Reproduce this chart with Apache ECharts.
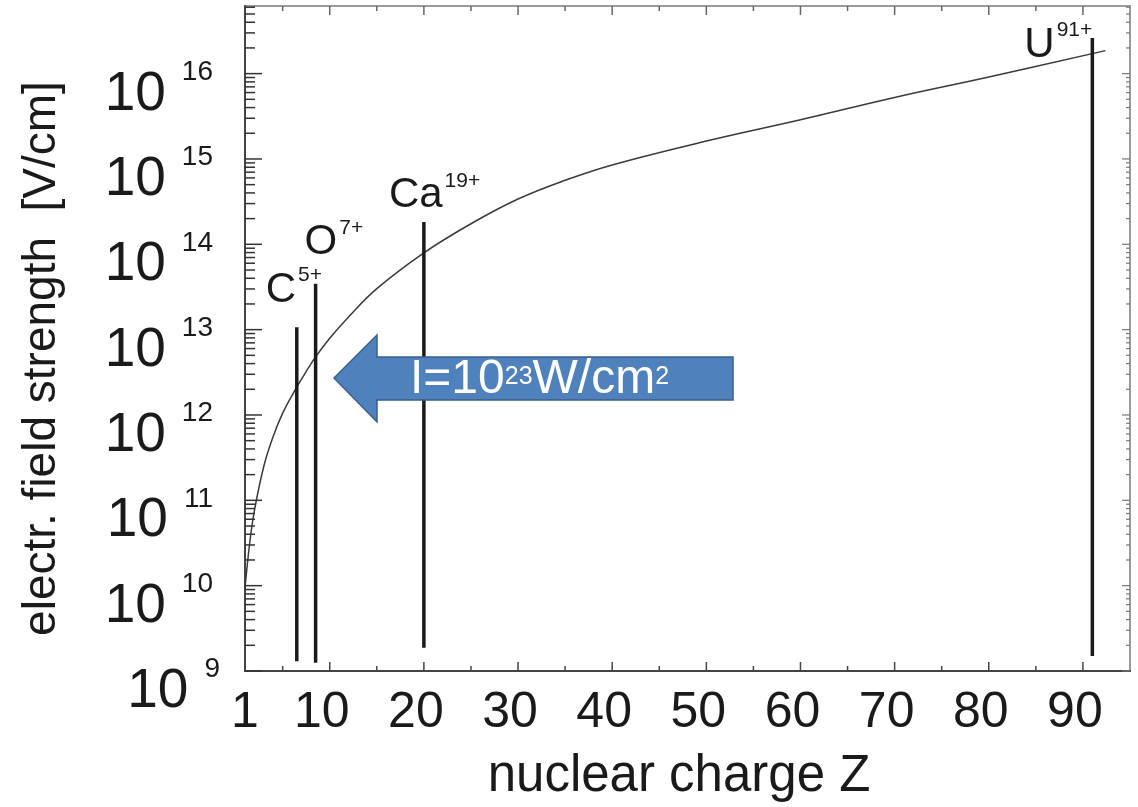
<!DOCTYPE html>
<html><head><meta charset="utf-8">
<script src="https://cdn.jsdelivr.net/npm/echarts@6/dist/echarts.min.js"></script>
<style>html,body{margin:0;padding:0;background:#fff}#c{width:1138px;height:807px}</style>
</head><body><div id="c"></div>
<script>
// ---- data ----
const curveZ = [1, 1.5, 2, 3, 4, 5, 6, 7, 8.5, 10, 12, 15, 20, 25, 30, 35, 40, 50, 60, 70, 80, 92.4];
const curveE = [9.33e9, 3.16e10, 7.59e10, 2.51e11, 5.62e11, 1.05e12, 1.70e12, 2.63e12, 4.79e12, 7.94e12, 1.41e13, 3.02e13, 7.94e13, 1.74e14, 3.39e14, 5.62e14, 8.51e14, 1.62e15, 2.88e15, 5.25e15, 9.12e15, 1.86e16];
const ionNames = ['C', 'O', 'Ca', 'U'];
const ionCharges = ['5+', '7+', '19+', '91+'];
const ionZ = [6.5, 8.5, 20, 91];
const ionLow = [1.3e9, 1.25e9, 1.87e9, 1.5e9];
const ionHigh = [1.07e13, 3.44e13, 1.83e14, 2.61e16];
const xTickLabels = [1, 10, 20, 30, 40, 50, 60, 70, 80, 90];
const xMajorTicks = [10, 20, 30, 40, 50, 60, 70, 80, 90];
const xMinorTicks = [5, 15, 25, 35, 45, 55, 65, 75, 85];
const yDecades = [9, 10, 11, 12, 13, 14, 15, 16];
const yMinorMult = [2, 3, 4, 5, 6, 7, 8, 9];
const xMin = 1, xMax = 95, yMin = 1e9, yMax = 6.2e16;
const xName = 'nuclear charge Z';
const yName = 'electr. field strength  [V/cm]';
const arrowText = ['I=10', '23', 'W/cm', '2'];

// ---- styling / layout (not data) ----
const FONT = '"Liberation Sans", Arial, Helvetica, sans-serif';
const ionLabelBox = { // offset of label box top-left from line top (px)
  C: [-31, -62], O: [-11, -66], Ca: [-35, -51], U: [-68, -18]
};

const yMinorTicks = [];
yDecades.forEach(d => yMinorMult.forEach(m => { const v = m * Math.pow(10, d); if (v < yMax) yMinorTicks.push(v); }));
const yMajorTicks = yDecades.map(d => Math.pow(10, d));

const chart = echarts.init(document.getElementById('c'), null, { renderer: 'canvas' });

function xTickRender(params, api) {
  const cs = params.coordSys;
  const v = api.value(0);
  const major = api.value(1) === 1;
  const px = api.coord([v, yMin])[0];
  const bot = cs.y + cs.height, top = cs.y;
  const len = major ? 9 : 5;
  return { type: 'group', children: [
    { type: 'line', shape: { x1: px, y1: bot, x2: px, y2: bot - len }, style: { stroke: '#444', lineWidth: 1.5 } },
    { type: 'line', shape: { x1: px, y1: top, x2: px, y2: top + len }, style: { stroke: '#666', lineWidth: 1.5 } }
  ] };
}
function yTickRender(params, api) {
  const cs = params.coordSys;
  const v = api.value(1);
  const major = api.value(2) === 1;
  const py = api.coord([xMin, v])[1];
  const l = cs.x, r = cs.x + cs.width;
  const lenL = major ? 17 : 10, lenR = major ? 8 : 4;
  return { type: 'group', children: [
    { type: 'line', shape: { x1: l, y1: py, x2: l + lenL, y2: py }, style: { stroke: '#333', lineWidth: 1.5 } },
    { type: 'line', shape: { x1: r, y1: py, x2: r - lenR, y2: py }, style: { stroke: '#777', lineWidth: 1.2 } }
  ] };
}
function ionRender(params, api) {
  const i = params.dataIndex;
  const z = api.value(0);
  const p0 = api.coord([z, api.value(1)]);
  const p1 = api.coord([z, api.value(2)]);
  const off = ionLabelBox[ionNames[i]];
  return { type: 'group', children: [
    { type: 'line', shape: { x1: p0[0], y1: p0[1], x2: p1[0], y2: p1[1] }, style: { stroke: '#1a1a1a', lineWidth: 3.5 } },
    { type: 'text', x: p1[0] + off[0], y: p1[1] + off[1], style: {
      text: '{m|' + ionNames[i] + '}{s|' + ionCharges[i] + '}',
      align: 'left', verticalAlign: 'top',
      rich: {
        m: { fontSize: 42, lineHeight: 50, fontFamily: FONT, fill: '#1a1a1a' },
        s: { fontSize: 21, lineHeight: 21, fontFamily: FONT, fill: '#1a1a1a', verticalAlign: 'top', padding: [0, 0, 0, 2] }
      } } }
  ] };
}

const ySupStyle = (padRight) => ({ fontSize: 28, fontFamily: FONT, color: '#1a1a1a', lineHeight: 28, verticalAlign: 'top', padding: [0, padRight, 0, 16] });

const option = {
  animation: false,
  backgroundColor: '#ffffff',
  grid: { left: 245, right: 8, top: 6, bottom: 134, show: true, borderColor: '#9a9a9a', borderWidth: 2, backgroundColor: 'transparent' },
  xAxis: {
    type: 'value', min: xMin, max: xMax,
    name: xName, nameLocation: 'middle', nameGap: 80,
    nameTextStyle: { fontSize: 51, fontFamily: FONT, color: '#1a1a1a', padding: [0, 17, 0, 0] },
    axisLine: { show: true, lineStyle: { color: '#444', width: 2 } },
    axisTick: { show: false },
    splitLine: { show: false },
    axisLabel: {
      customValues: xTickLabels, margin: 16,
      formatter: v => v === 1 ? '{a|1}' : '{b|' + v + '}',
      rich: {
        a: { fontSize: 50, fontFamily: FONT, color: '#1a1a1a', lineHeight: 52 },
        b: { fontSize: 50, fontFamily: FONT, color: '#1a1a1a', lineHeight: 52, padding: [0, 16, 0, 0] }
      }
    }
  },
  yAxis: {
    type: 'log', logBase: 10, min: yMin, max: yMax, splitNumber: 8,
    name: yName, nameLocation: 'middle', nameRotate: 90, nameGap: 180,
    nameTextStyle: { fontSize: 46, fontFamily: FONT, color: '#1a1a1a', padding: [0, 40, 0, 0] },
    axisLine: { show: true, lineStyle: { color: '#444', width: 2 } },
    axisTick: { show: false },
    splitLine: { show: false },
    axisLabel: {
      margin: 25, align: 'right', padding: [42, 0, 0, 0], showMaxLabel: false,
      formatter: v => {
        const e = Math.log10(v), r = Math.round(e);
        if (Math.abs(e - r) > 1e-6) return '';
        return '{b|10}{' + (r < 10 ? 's1' : 's') + '|' + r + '}';
      },
      rich: {
        b: { fontSize: 55, fontFamily: FONT, color: '#1a1a1a', lineHeight: 73 },
        s: ySupStyle(7),
        s1: ySupStyle(0)
      }
    }
  },
  series: [
    { type: 'custom', name: 'xticks', silent: true, renderItem: xTickRender,
      data: xMajorTicks.map(v => [v, 1]).concat(xMinorTicks.map(v => [v, 0])), encode: { x: 0 }, z: 5 },
    { type: 'custom', name: 'yticks', silent: true, renderItem: yTickRender,
      data: yMajorTicks.map(v => [xMin, v, 1]).concat(yMinorTicks.map(v => [xMin, v, 0])), encode: { x: 0, y: 1 }, z: 5 },
    { type: 'line', name: 'field', silent: true, showSymbol: false, smooth: 0.4,
      data: curveZ.map((z, i) => [z, curveE[i]]),
      lineStyle: { color: '#3a3a3a', width: 1.5 }, z: 3 },
    { type: 'custom', name: 'ions', silent: true, renderItem: ionRender,
      data: ionZ.map((z, i) => [z, ionLow[i], ionHigh[i]]), encode: { x: 0, y: [1, 2] }, z: 4 }
  ],
  graphic: [
    { type: 'polygon', z: 100, shape: { points: [[334, 378], [377, 335], [377, 357], [733, 357], [733, 400], [377, 400], [377, 422]] },
      style: { fill: '#4F81BD', stroke: '#3A5F8B', lineWidth: 1.5 } },
    { type: 'text', z: 101, x: 410, y: 380, style: {
      text: '{a|' + arrowText[0] + '}{s|' + arrowText[1] + '}{a|' + arrowText[2] + '}{s|' + arrowText[3] + '}',
      align: 'left', verticalAlign: 'middle',
      rich: {
        a: { fontSize: 48, fontFamily: FONT, fill: '#ffffff', lineHeight: 50 },
        s: { fontSize: 25, fontFamily: FONT, fill: '#ffffff', lineHeight: 40, verticalAlign: 'middle', padding: [0, 0, 5, 0] }
      } } }
  ]
};
chart.setOption(option);
</script></body></html>
